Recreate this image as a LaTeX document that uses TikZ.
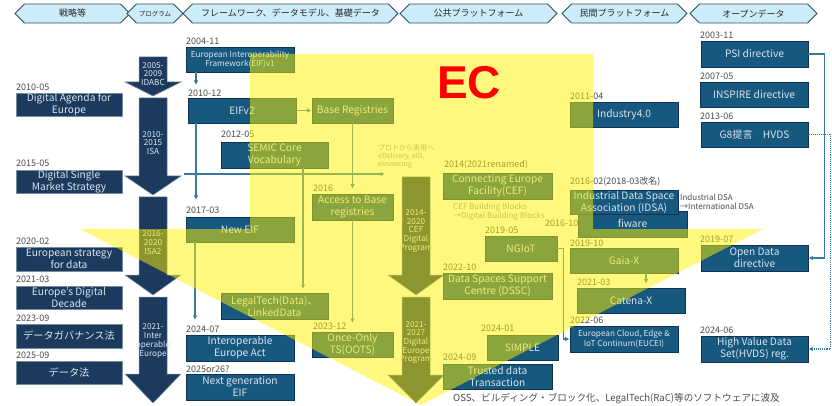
\documentclass[tikz,border=0pt]{standalone}
\usepackage{fontspec}
\setmainfont{Noto Sans CJK JP}
\newfontfamily\ecfont{Liberation Sans}
\usetikzlibrary{shapes.symbols,arrows.meta}

\definecolor{navy}{RGB}{28,58,94}
\definecolor{boxblue}{RGB}{23,88,126}
\definecolor{hdrfill}{RGB}{204,236,250}
\definecolor{hdrline}{RGB}{50,80,95}
\definecolor{lnblue}{RGB}{55,120,165}
\definecolor{labgray}{RGB}{75,75,75}
\definecolor{boxtext}{RGB}{218,228,238}
\definecolor{sline}{RGB}{120,140,160}
\definecolor{bline}{RGB}{15,50,80}

\tikzset{
 hdr/.style={signal, signal to=west and east, signal pointer angle=90, draw=hdrline, fill=hdrfill, line width=0.8pt, inner sep=0pt, minimum height=19pt, font=\fontsize{9}{10}\selectfont, text=black!85},
 sbox/.style={draw=sline, line width=0.6pt, fill=navy, text=boxtext, inner sep=0pt, align=center, font=\fontsize{10.2}{12}\selectfont},
 bbox/.style={sbox, fill=boxblue, draw=bline, line width=0.8pt},
 lab/.style={anchor=west, inner sep=0pt, text=labgray, font=\fontsize{9}{10}\selectfont},
 note/.style={anchor=north west, inner sep=0pt, align=left, text=labgray, font=\fontsize{8}{8.6}\selectfont},
 conn/.style={draw=lnblue, line width=1.1pt, -{Latex[length=4.5pt,width=4.5pt]}},
 prog/.style={fill=navy, draw=sline, line width=0.5pt},
 progtext/.style={text=boxtext, align=center, font=\fontsize{8.2}{8.7}\selectfont, inner sep=0pt},
}

\newcommand{\abox}[7]{\node[#1, minimum width={#4pt-#3pt}, minimum height={#6pt-#5pt}] (#2) at ({(#3+#4)/2},{(#5+#6)/2}) {#7};}
\newcommand{\parrow}[7]{%
 \path[prog] (#2-14,#3) -- (#2+14,#3) -- (#2+14,#4) -- (#2+28,#4) -- (#2,#5) -- (#2-28,#4) -- (#2-14,#4) -- cycle;
 \node[progtext] (#1) at (#2,#6) {#7};}

\begin{document}
\begin{tikzpicture}[x=1pt,y=-1pt]
\useasboundingbox (0,0) rectangle (832,406);
\fill[white] (0,0) rectangle (832,406);

% headers
\node[hdr, minimum width=115pt] (h1) at (72.5,13.5) {戦略等};
\node[hdr, minimum width=56pt, font=\fontsize{6.5}{7}\selectfont] (h2) at (155,13.5) {プログラム};
\node[hdr, minimum width=215pt] (h3) at (290.5,13.5) {フレームワーク、データモデル、基礎データ};
\node[hdr, minimum width=157pt] (h4) at (478.5,13.5) {公共プラットフォーム};
\node[hdr, minimum width=125pt] (h5) at (624.5,13.5) {民間プラットフォーム};
\node[hdr, minimum width=127pt] (h6) at (753.5,13.5) {オープンデータ};

% program arrows
\parrow{pa1}{153}{57}{82}{96}{74}{2005-\\2009\\IDABC}
\parrow{pa2}{153}{98}{176}{195}{143}{2010-\\2015\\ISA}
\parrow{pa3}{153}{197}{275}{295}{242.5}{2016-\\2020\\ISA2}
\parrow{pa4}{153}{297}{374}{403}{341}{2021-\\Inter\\operable\\Europe}
\parrow{pa5}{416}{177}{275}{295}{231}{2014-\\2020\\CEF\\Digital\\Program}
\parrow{pa6}{416}{297}{375}{403}{342.5}{2021-\\2027\\Digital\\Europe\\Program}

% strategy column
\node[lab] (l1) at (16,87) {2010-05};
\abox{sbox}{dae}{16}{122}{93}{116}{Digital Agenda for\\Europe}
\node[lab] (l2) at (16,163) {2015-05};
\abox{sbox}{dsm}{16}{122}{170}{193}{Digital Single\\Market Strategy}
\node[lab] (l3) at (16,241) {2020-02};
\abox{sbox}{esd}{16}{122}{247}{271}{European strategy\\for data}
\node[lab] (l4) at (16,279) {2021-03};
\abox{sbox}{edd}{16}{122}{286}{309}{Europe's Digital\\Decade}
\node[lab] (l5) at (16,318) {2023-09};
\abox{sbox}{dga}{16}{122}{324}{348}{データガバナンス法}
\node[lab] (l6) at (16,355) {2025-09};
\abox{sbox}{dact}{16}{122}{361}{384}{データ法}

% framework column
\node[lab] (l7) at (186,41) {2004-11};
\abox{bbox,font=\fontsize{8.2}{9.5}\selectfont}{eif1}{186}{294}{47}{72}{European Interoperability\\Framework(EIF)v1}
\node[lab] (l8) at (188,93) {2010-12};
\abox{bbox}{eif2}{188}{296}{98}{123}{EIFv2}
\abox{bbox}{br}{312}{393}{98}{123}{Base Registries}
\node[lab] (l9) at (221,134) {2012-05};
\abox{bbox}{semic}{221}{328}{142}{168}{SEMIC Core\\Vocabulary}
\node[lab] (l10) at (313,188) {2016};
\abox{bbox}{abr}{312}{393}{194}{220}{Access to Base\\registries}
\node[lab] (l11) at (186,210) {2017-03};
\abox{bbox}{neif}{186}{294}{217}{242}{New EIF}
\abox{bbox}{ltd}{221}{328}{293}{319}{LegalTech(Data)、\\LinkedData}
\node[lab] (l12) at (186,329) {2024-07};
\abox{bbox}{iea}{186}{294}{335}{361}{Interoperable\\Europe Act}
\node[lab] (l13) at (186,369) {2025or26?};
\abox{bbox}{ngeif}{186}{294}{374}{400}{Next generation\\EIF}
\node[lab] (l14) at (313,326) {2023-12};
\abox{bbox}{oots}{312}{393}{332}{357}{Once-Only\\TS(OOTS)}

% public platform
\node[note, text=gray!85, font=\fontsize{7}{8.3}\selectfont] (n1) at (378,144) {プロトから実用へ\\eDelivery, eID,\\eInvoicing};
\node[lab] (l15) at (444,165) {2014(2021renamed)};
\abox{bbox}{cef}{443}{552}{173}{199}{Connecting Europe\\Facility(CEF)}
\node[note, text=gray!85] (n2) at (453,203) {CEF Building Blocks\\→Digital Building Blocks};
\node[lab] (l16) at (485,230) {2019-05};
\abox{bbox}{ngiot}{485}{557}{236}{261}{NGIoT}
\node[lab] (l17) at (443,267) {2022-10};
\abox{bbox}{dssc}{443}{552}{273}{299}{Data Spaces Support\\Centre (DSSC)}
\node[lab] (l18) at (481,328) {2024-01};
\abox{bbox}{simple}{487}{558}{335}{360}{SIMPLE}
\node[lab] (l19) at (443,357) {2024-09};
\abox{bbox}{tdt}{443}{552}{364}{389}{Trusted data\\Transaction}
\node[anchor=west, inner sep=0pt, text=labgray, font=\fontsize{9.6}{11}\selectfont] (bt) at (453,399) {OSS、ビルディング・ブロック化、LegalTech(RaC)等のソフトウェアに波及};

% private platform
\node[lab] (l20) at (570,96) {2011-04};
\abox{bbox}{ind}{570}{678}{102}{127}{Industry4.0}
\node[lab] (l21) at (570,182) {2016-02(2018-03改名)};
\abox{bbox}{fiw}{578}{687}{211}{237}{\raisebox{2pt}{fiware}}
\abox{bbox}{idsa}{570}{678}{190}{214}{Industrial Data Space\\Association (IDSA)}
\node[note] (n3) at (680,194) {Industrial DSA\\→International DSA};
\node[lab] (l22) at (545,223) {2016-10};
\node[lab] (l23) at (570,243) {2019-10};
\abox{bbox}{gaia}{570}{678}{248}{273}{Gaia-X}
\node[lab] (l24) at (577,282) {2021-03};
\abox{bbox}{catena}{577}{685}{288}{313}{Catena-X}
\node[lab] (l25) at (570,320) {2022-06};
\abox{bbox,font=\fontsize{8.2}{9.5}\selectfont}{eucei}{570}{678}{326}{352}{European Cloud, Edge \&\\IoT Continum(EUCEI)}

% open data
\node[lab] (l26) at (700,35) {2003-11};
\abox{bbox}{psi}{701}{808}{41}{67}{PSI directive}
\node[lab] (l27) at (700,76) {2007-05};
\abox{bbox}{insp}{700}{808}{82}{107}{INSPIRE directive}
\node[lab] (l28) at (700,116) {2013-06};
\abox{bbox}{g8}{701}{808}{122}{147}{G8提言　HVDS}
\node[lab] (l29) at (700,239) {2019-07};
\abox{bbox}{odd}{701}{808}{245}{271}{Open Data\\directive}
\node[lab] (l30) at (700,330) {2024-06};
\abox{bbox}{hvds}{701}{808}{336}{362}{High Value Data\\Set(HVDS) reg.}

% connectors
\coordinate (e1) at (196,85);
\draw[conn] (eif1.south -| e1) -- (e1);
\draw[conn] (eif2.east) -- (br.west);
\coordinate (e2) at (196,200);
\draw[conn] (eif2.south -| e2) -- (e2);
\coordinate (h0) at (184,174);
\coordinate (e3) at (385,174);
\draw[conn] (h0) -- (e3);
\coordinate (e4) at (303,289);
\draw[conn] (semic.south -| e4) -- (e4);
\draw[conn, shorten >=5pt] (br.south) -- (abr.north);
\coordinate (e5) at (352.5,323);
\draw[conn] (abr.south) -- (e5);
\coordinate (e6) at (195,320);
\draw[conn] (neif.south -| e6) -- (e6);
\draw[conn] (ngiot.east) -- ++(6,0) |- (eucei.west);
\coordinate (e7) at (646,0);
\draw[conn, shorten >=4pt] (gaia.south -| e7) -- (catena.north -| e7);
\draw[conn] (psi.east) -- ++(16,0) |- (odd.east);
\draw[conn, densely dotted] (g8.east) -- ++(22,0) |- (hvds.east);

% EC overlay
\fill[yellow, fill opacity=0.5] (250,54) -- (593,54) -- (593,229) -- (763,229) -- (421,405) -- (80,229) -- (250,229) -- cycle;
\node[font=\ecfont\bfseries\fontsize{46}{46}\selectfont, text=red, inner sep=0pt] (ec) at (469,83) {EC};
\end{tikzpicture}
\end{document}
